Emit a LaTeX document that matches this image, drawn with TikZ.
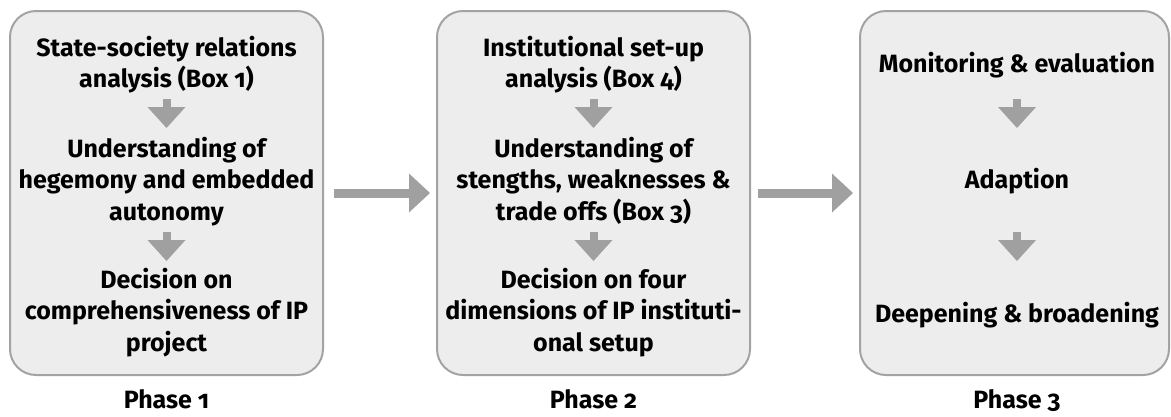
\documentclass[tikz,border=0pt]{standalone}
\usepackage{fontspec}
\setmainfont{Fira Sans}[Numbers=OldStyle]
\usetikzlibrary{arrows.meta}
\definecolor{boxfill}{HTML}{EDEDED}
\definecolor{boxline}{HTML}{A3A3A3}
\definecolor{arrowgray}{HTML}{A0A0A0}
% zero-width rule fixing the height of a block's first line
\newcommand\firstline{\rule{0pt}{24pt}}
\begin{document}
\begin{tikzpicture}[x=1pt,y=-1pt,
  phasebox/.style={draw=boxline, line width=2pt, fill=boxfill,
    rounded corners=26pt, inner sep=0pt, minimum height=364pt},
  txt/.style={font=\fontsize{25}{31.5}\selectfont\bfseries, align=center,
    inner sep=0pt, anchor=north},
  phaselabel/.style={font=\fontsize{25}{30}\selectfont\bfseries,
    inner sep=0pt, anchor=base},
  bigarrow/.style={draw=arrowgray, line width=9pt,
    -{Triangle[width=39pt,length=21pt,line width=0pt]}},
  smallarrow/.style={draw=arrowgray, line width=8pt,
    -{Triangle[width=38pt,length=21pt,line width=0pt]}}]
\useasboundingbox (0,0) rectangle (1171,416);

% the three phase panels
\node[phasebox, minimum width=313pt] (p1) at (166.5,193) {};
\node[phasebox, minimum width=313pt] (p2) at (593.5,193) {};
\node[phasebox, minimum width=309pt] (p3) at (1014.5,193) {};

% phase 1 contents
\node[txt] (t11) at (166.5,32) {\firstline State-society relations\\analysis (Box 1)};
\node[txt] (t12) at (166.5,133) {\firstline Understanding of\\hegemony and embedded\\autonomy};
\node[txt] (t13) at (166.5,264) {\firstline Decision on\\comprehensiveness of IP\\project};

% phase 2 contents
\node[txt] (t21) at (593.5,32) {\firstline Institutional set-up\\analysis (Box 4)};
\node[txt] (t22) at (593.5,133) {\firstline Understanding of\\stengths, weaknesses \&\\trade offs (Box 3)};
\node[txt] (t23) at (593.5,264) {\firstline Decision on four\\dimensions of IP instituti-\\onal setup};

% phase 3 contents
\node[txt] (t31) at (1017,48) {\firstline Monitoring \& evaluation};
\node[txt] (t32) at (1017,164) {\firstline Adaption};
\node[txt] (t33) at (1017,298) {\firstline Deepening \& broadening};

% phase captions
\node[phaselabel] (l1) at (166.5,408) {Phase 1};
\node[phaselabel] (l2) at (593.5,408) {Phase 2};
\node[phaselabel] (l3) at (1017,408) {Phase 3};

% step arrows inside the panels
\foreach \n/\x in {1/166.5, 2/593.5, 3/1017} {
  \coordinate (s\n a) at (\x,99);
  \coordinate (e\n a) at (\x,128);
  \coordinate (s\n b) at (\x,232);
  \coordinate (e\n b) at (\x,261);
  \draw[smallarrow] (s\n a) -- (e\n a);
  \draw[smallarrow] (s\n b) -- (e\n b);
}

% arrows between the phases
\draw[bigarrow, shorten <=10pt, shorten >=6pt] (p1.east) -- (p2.west);
\draw[bigarrow, shorten <=7pt, shorten >=6pt] (p2.east) -- (p3.west);
\end{tikzpicture}
\end{document}
